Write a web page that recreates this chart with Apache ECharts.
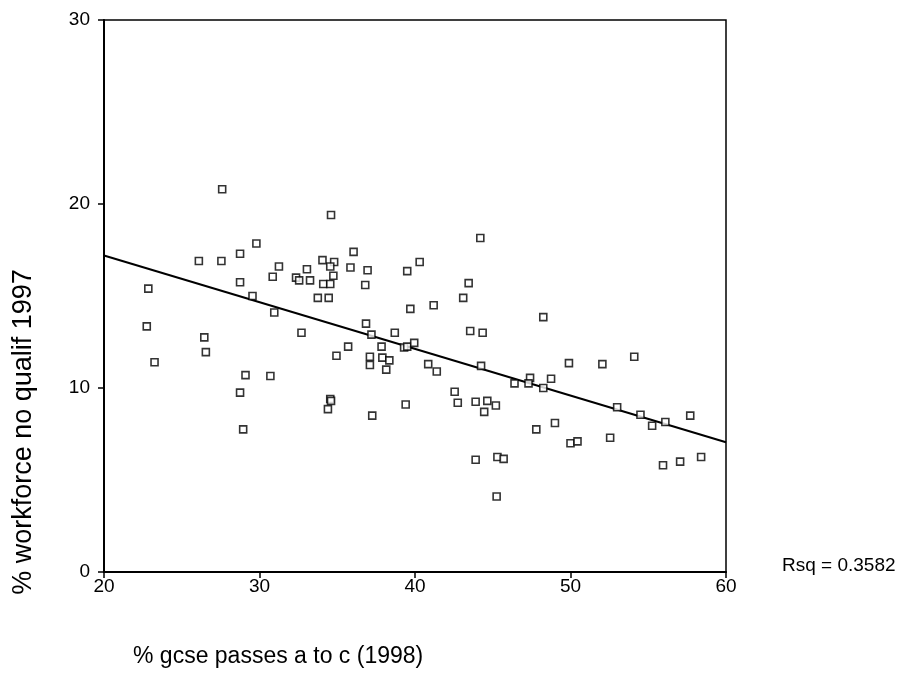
<!DOCTYPE html>
<html>
<head>
<meta charset="utf-8">
<script src="https://cdn.jsdelivr.net/npm/echarts@6/dist/echarts.min.js"></script>
<style>
  html, body { margin: 0; padding: 0; background: #fff; }
  #chart { width: 909px; height: 677px; }
</style>
</head>
<body>
<div id="chart"></div>
<script>
// % gcse passes a to c (1998) for each area
var gcse = [
  27.6, 34.6, 44.2, 29.8, 36.05, 26.1, 27.55, 28.75, 31.25, 30.85,
  32.35, 32.55, 33.05, 33.25, 34.05, 34.8, 34.55, 40.3, 35.85, 36.95,
  39.5, 34.75, 34.1, 34.55, 36.8, 43.45, 22.85, 28.75, 29.55, 33.75,
  34.45, 43.1, 30.95, 39.7, 41.2, 36.85, 48.25, 22.75, 26.45, 26.55,
  32.7, 23.25, 29.1, 30.7, 28.75, 28.95, 37.2, 38.7, 43.55, 44.35,
  35.7, 34.95, 37.85, 39.3, 39.5, 39.95, 37.1, 37.1, 37.9, 38.35,
  38.15, 40.85, 41.4, 44.25, 46.4, 34.55, 34.6, 34.4, 39.4, 37.25,
  42.55, 42.75, 43.9, 44.65, 45.2, 44.45, 43.9, 45.3, 45.7, 49.9,
  52.05, 54.1, 47.4, 47.3, 48.75, 48.25, 53.0, 54.5, 55.25, 56.1,
  57.7, 47.8, 49.0, 50.0, 50.45, 52.55, 55.95, 57.05, 58.4, 45.25
];
// % workforce no qualif 1997, same order
var noQualif = [
  20.8, 19.4, 18.15, 17.85, 17.4, 16.9, 16.9, 17.3, 16.6, 16.05,
  16.0, 15.85, 16.45, 15.85, 16.95, 16.85, 16.6, 16.85, 16.55, 16.4,
  16.35, 16.1, 15.65, 15.65, 15.6, 15.7, 15.4, 15.75, 15.0, 14.9,
  14.9, 14.9, 14.1, 14.3, 14.5, 13.5, 13.85, 13.35, 12.75, 11.95,
  13.0, 11.4, 10.7, 10.65, 9.75, 7.75, 12.9, 13.0, 13.1, 13.0,
  12.25, 11.75, 12.25, 12.2, 12.25, 12.45, 11.7, 11.25, 11.65, 11.5,
  11.0, 11.3, 10.9, 11.2, 10.25, 9.4, 9.3, 8.85, 9.1, 8.5,
  9.8, 9.2, 9.25, 9.3, 9.05, 8.7, 6.1, 6.25, 6.15, 11.35,
  11.3, 11.7, 10.55, 10.25, 10.5, 10.0, 8.95, 8.55, 7.95, 8.15,
  8.5, 7.75, 8.1, 7.0, 7.1, 7.3, 5.8, 6.0, 6.25, 4.1
];
// fitted line ends
var fitX = [20, 60];
var fitY = [17.2, 7.05];
var xTicks = [20, 30, 40, 50, 60];
var yTicks = [0, 10, 20, 30];
var rsqText = 'Rsq = 0.3582';

var font = 'Arial, "Liberation Sans", sans-serif';

var chart = echarts.init(document.getElementById('chart'));

var points = gcse.map(function (x, i) { return [x, noQualif[i]]; });
var fitLine = fitX.map(function (x, i) { return [x, fitY[i]]; });

var option = {
  backgroundColor: '#fff',
  animation: false,
  grid: {
    left: 104, top: 20, width: 622, height: 552,
    show: true, borderColor: '#000', borderWidth: 1.5,
    backgroundColor: 'transparent'
  },
  xAxis: {
    type: 'value',
    min: xTicks[0], max: xTicks[xTicks.length - 1], interval: 10,
    axisLine: { lineStyle: { color: '#000', width: 2 } },
    axisTick: { show: true, length: 6, lineStyle: { color: '#000', width: 1.5 } },
    axisLabel: { color: '#000', fontSize: 19, fontFamily: font, margin: 5 },
    splitLine: { show: false }
  },
  yAxis: {
    type: 'value',
    min: yTicks[0], max: yTicks[yTicks.length - 1], interval: 10,
    axisLine: { show: true, lineStyle: { color: '#000', width: 2 } },
    axisTick: { show: true, length: 6, lineStyle: { color: '#000', width: 1.5 } },
    axisLabel: { color: '#000', fontSize: 19, fontFamily: font, margin: 14 },
    splitLine: { show: false }
  },
  series: [
    {
      type: 'line',
      data: fitLine,
      symbol: 'none',
      lineStyle: { color: '#000', width: 2 },
      z: 2
    },
    {
      type: 'scatter',
      data: points,
      symbol: 'rect',
      symbolSize: 7,
      itemStyle: { color: '#fff', borderColor: '#000', borderWidth: 1.6 },
      z: 3
    }
  ],
  graphic: [
    {
      type: 'text',
      left: 133, top: 645,
      style: { text: '% gcse passes a to c (1998)', fill: '#000', font: '23px ' + font }
    },
    {
      type: 'text',
      x: 24, y: 432,
      rotation: Math.PI / 2,
      style: {
        text: '% workforce no qualif 1997', fill: '#000', font: '27px ' + font,
        align: 'center', verticalAlign: 'middle'
      }
    },
    {
      type: 'text',
      left: 782, top: 556,
      style: { text: rsqText, fill: '#000', font: '19px ' + font }
    }
  ]
};

chart.setOption(option);
</script>
</body>
</html>
